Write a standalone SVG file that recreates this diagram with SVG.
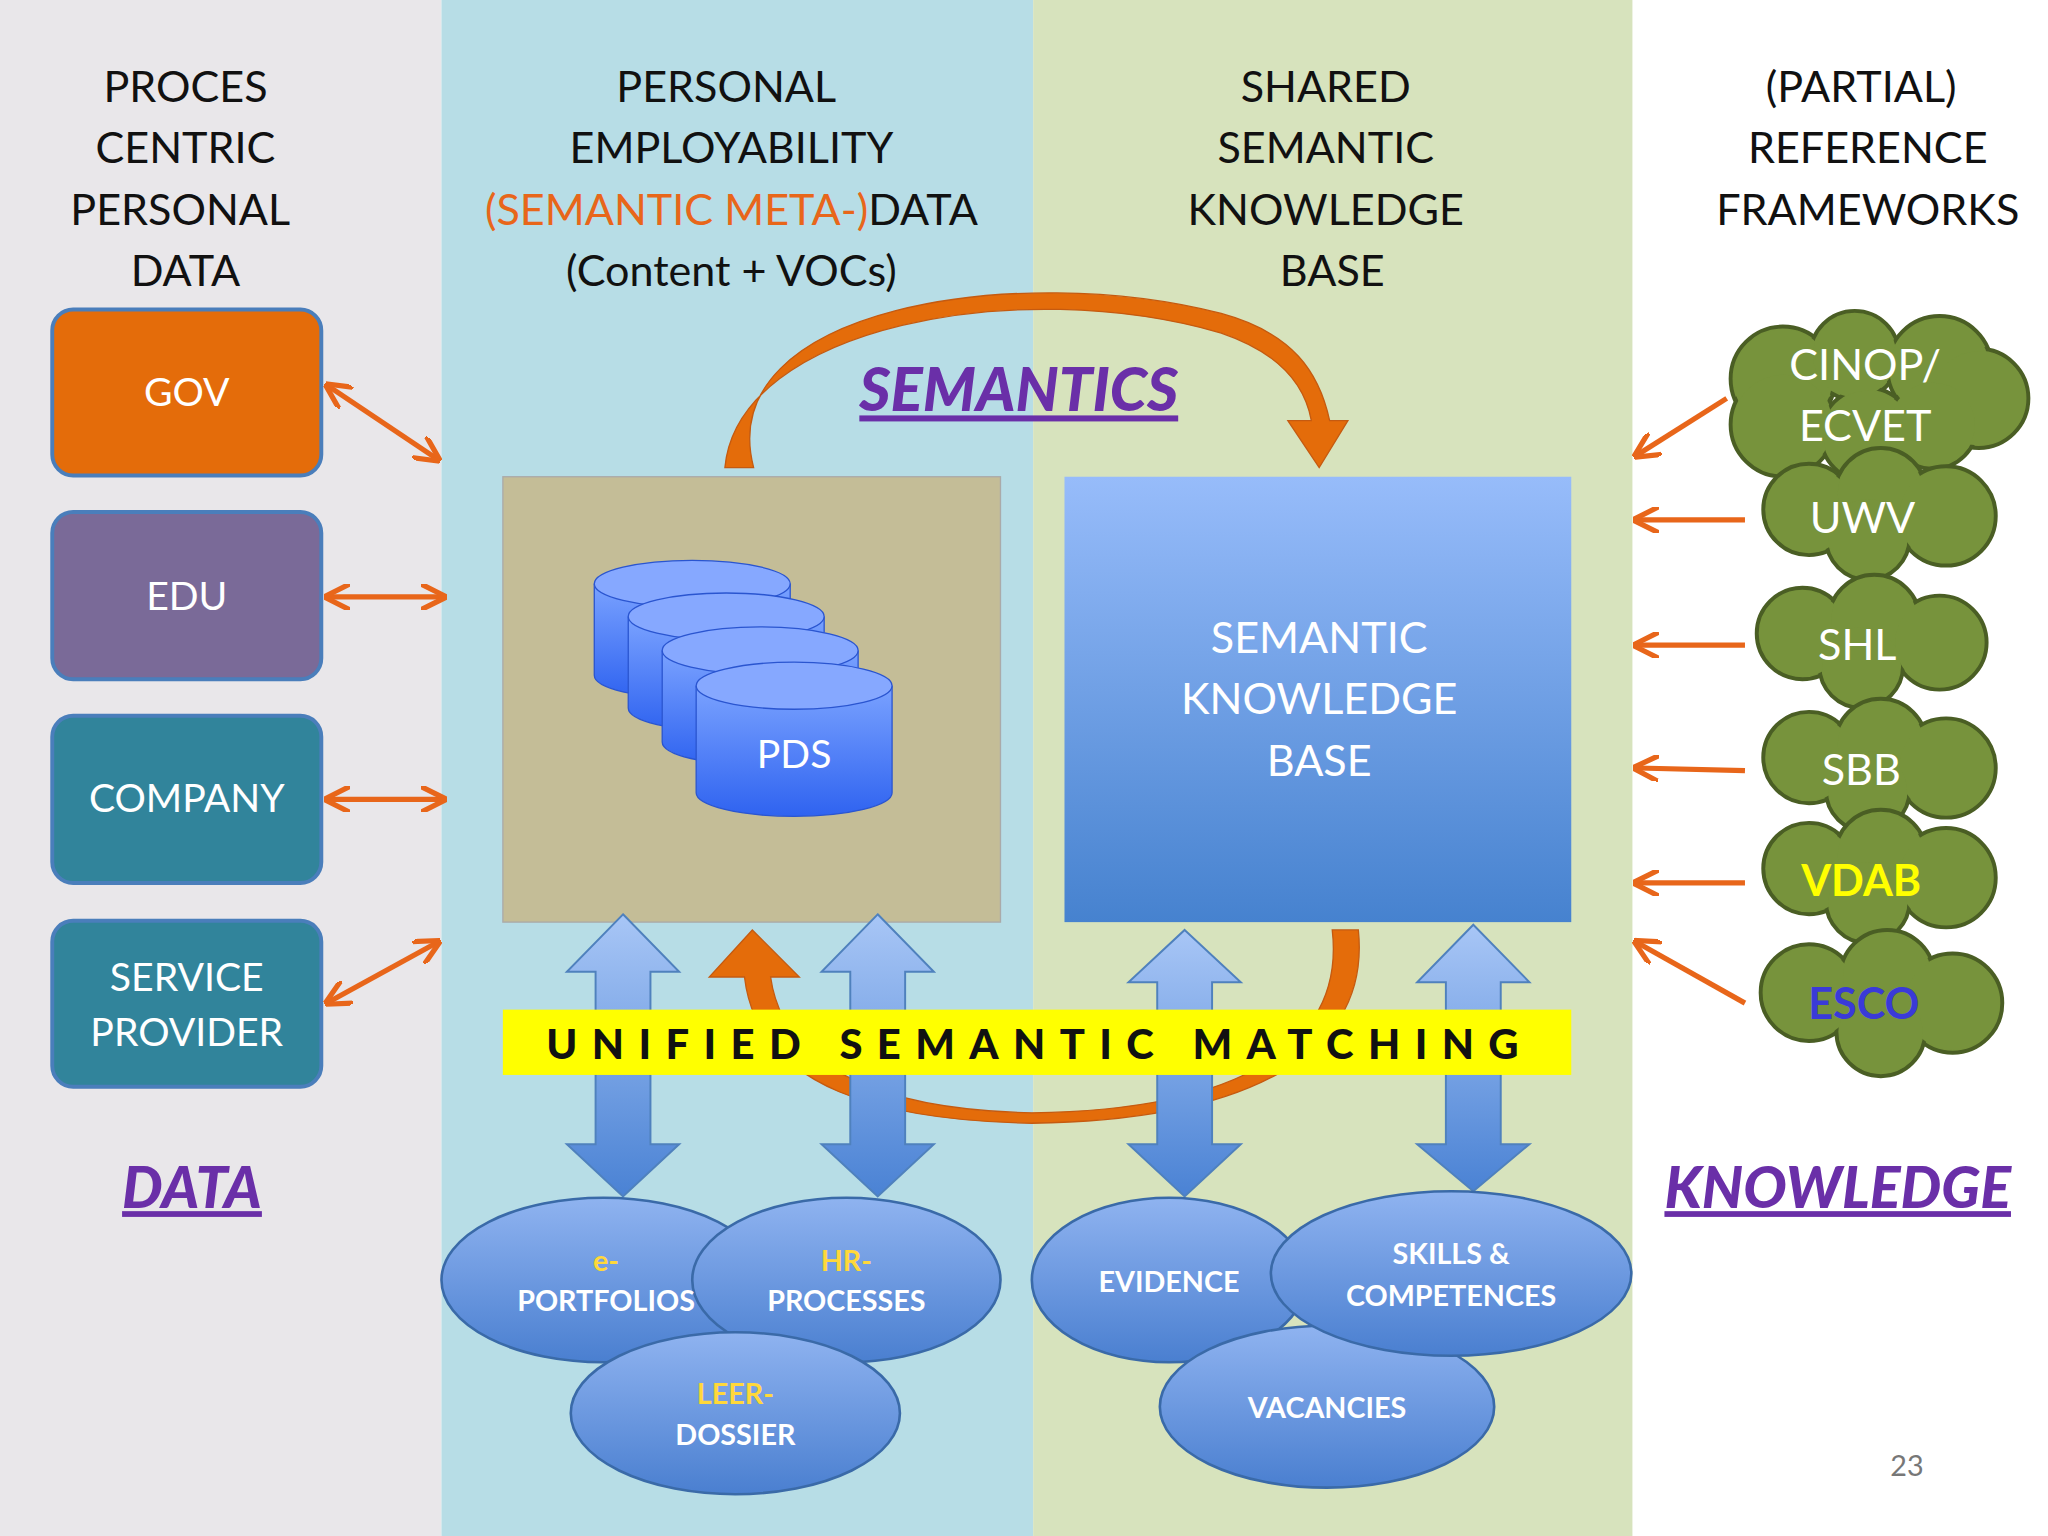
<svg xmlns="http://www.w3.org/2000/svg" width="2048" height="1536" viewBox="0 0 2048 1536">
<defs>
<style>
.h{font-family:Lato,"Open Sans",sans-serif;font-size:33px;fill:#111;text-anchor:middle}
.bl{font-family:Lato,"Open Sans",sans-serif;font-size:30px;fill:#fff;text-anchor:middle}
.el{font-family:Lato,"Open Sans",sans-serif;font-size:22px;font-weight:bold;fill:#fff;text-anchor:middle}
.cl{font-family:Lato,"Open Sans",sans-serif;font-size:33px;fill:#fff;text-anchor:middle}
.big{font-family:Lato,"Open Sans",sans-serif;font-style:italic;font-weight:900;fill:#6a2fa8;text-anchor:middle;text-decoration:underline}
.oa{stroke:#e8661a;stroke-width:4;fill:none;marker-start:url(#oh);marker-end:url(#oh)}
.oa1{stroke:#e8661a;stroke-width:4;fill:none;marker-end:url(#oh)}
.box{stroke:#4a7ebb;stroke-width:3}
.ell{fill:url(#eg);stroke:#3a6aa8;stroke-width:2}
.ba{fill:url(#ag);stroke:#4f81bd;stroke-width:1.5}
</style>
<marker id="oh" viewBox="0 0 10 10" refX="8" refY="5" markerWidth="5" markerHeight="5" orient="auto-start-reverse"><path d="M0,0 L10,5 L0,10" fill="none" stroke="#e8661a" stroke-width="2"/></marker>
<linearGradient id="kg" x1="0" y1="0" x2="0" y2="1"><stop offset="0" stop-color="#97bcfa"/><stop offset="1" stop-color="#4682cf"/></linearGradient>
<linearGradient id="eg" x1="0" y1="0" x2="0" y2="1"><stop offset="0" stop-color="#8fb3f0"/><stop offset="1" stop-color="#4a7fd0"/></linearGradient>
<linearGradient id="ag" x1="0" y1="0" x2="0" y2="1"><stop offset="0" stop-color="#a8c6f6"/><stop offset="1" stop-color="#4a82d4"/></linearGradient>
<linearGradient id="cy" x1="0" y1="0" x2="0" y2="1"><stop offset="0" stop-color="#7aa2ff"/><stop offset="1" stop-color="#2f63f0"/></linearGradient>
</defs>
<g transform="scale(1.30612)">
<g id="backgrounds">
<rect x="0" y="0" width="338" height="1176" fill="#e9e7ea"/>
<rect x="338" y="0" width="453" height="1176" fill="#b7dde6"/>
<rect x="791" y="0" width="459" height="1176" fill="#d7e3bd"/>
<rect x="1250" y="0" width="318" height="1176" fill="#fff"/>
</g>
<g id="headers">
<text class="h" x="142" y="78">PROCES</text><text class="h" x="142" y="125">CENTRIC</text><text class="h" x="138" y="172">PERSONAL</text><text class="h" x="142" y="219">DATA</text>
<text class="h" x="556" y="78">PERSONAL</text><text class="h" x="560" y="125">EMPLOYABILITY</text>
<text class="h" x="560" y="172"><tspan fill="#e8661a">(SEMANTIC META-)</tspan>DATA</text><text class="h" x="560" y="219">(Content + VOCs)</text>
<text class="h" x="1015" y="78">SHARED</text><text class="h" x="1015" y="125">SEMANTIC</text><text class="h" x="1015" y="172">KNOWLEDGE</text><text class="h" x="1020" y="219">BASE</text>
<text class="h" x="1425" y="78">(PARTIAL)</text><text class="h" x="1430" y="125">REFERENCE</text><text class="h" x="1430" y="172">FRAMEWORKS</text>
</g>
<g id="gov"><rect x="40" y="237" width="206" height="127" rx="16" fill="#e46c0a" class="box"/><text class="bl" x="143" y="311">GOV</text></g>
<g id="edu"><rect x="40" y="392" width="206" height="128" rx="16" fill="#7a6a98" class="box"/><text class="bl" x="143" y="467">EDU</text></g>
<g id="company"><rect x="40" y="548" width="206" height="128" rx="16" fill="#31849b" class="box"/><text class="bl" x="143" y="622">COMPANY</text></g>
<g id="service"><rect x="40" y="705" width="206" height="127" rx="16" fill="#31849b" class="box"/><text class="bl" x="143" y="759">SERVICE</text><text class="bl" x="143" y="801">PROVIDER</text></g>
<g id="pds">
<rect x="385" y="365" width="381" height="341" fill="#c4bd97" stroke="#aaa" stroke-width="1"/>
<g stroke="#2a55d0" stroke-width="1">
<path d="M455,447 v70 a75,18 0 0 0 150,0 v-70" fill="url(#cy)"/><ellipse cx="530" cy="447" rx="75" ry="18" fill="#86a8ff"/>
<path d="M481,472 v70 a75,18 0 0 0 150,0 v-70" fill="url(#cy)"/><ellipse cx="556" cy="472" rx="75" ry="18" fill="#86a8ff"/>
<path d="M507,498 v70 a75,18 0 0 0 150,0 v-70" fill="url(#cy)"/><ellipse cx="582" cy="498" rx="75" ry="18" fill="#86a8ff"/>
<path d="M533,525 v82 a75,18 0 0 0 150,0 v-82" fill="url(#cy)"/><ellipse cx="608" cy="525" rx="75" ry="18" fill="#86a8ff"/>
</g>
<text class="bl" x="608" y="588">PDS</text>
</g>
<g id="skb"><rect x="815" y="365" width="388" height="341" fill="url(#kg)"/>
<text class="bl" x="1010" y="500" style="font-size:33px">SEMANTIC</text><text class="bl" x="1010" y="547" style="font-size:33px">KNOWLEDGE</text><text class="bl" x="1010" y="594" style="font-size:33px">BASE</text></g>
<g id="connectors">
<line class="oa" x1="252" y1="296" x2="334" y2="351"/>
<line class="oa" x1="252" y1="457" x2="338" y2="457"/>
<line class="oa" x1="252" y1="612" x2="338" y2="612"/>
<line class="oa" x1="252" y1="767" x2="334" y2="722"/>
<line class="oa1" x1="1322" y1="305" x2="1254" y2="348"/>
<line class="oa1" x1="1336" y1="398" x2="1254" y2="398"/>
<line class="oa1" x1="1336" y1="494" x2="1254" y2="494"/>
<line class="oa1" x1="1336" y1="590" x2="1254" y2="588"/>
<line class="oa1" x1="1336" y1="676" x2="1254" y2="676"/>
<line class="oa1" x1="1336" y1="768" x2="1254" y2="722"/>
<path d="M556,358 C560,240 800,200 960,260 C990,275 1000,300 1004,325 L1032,325 L1010,358 L985,325 L1004,325" fill="none"/>
<path d="M555,358 C565,250 780,210 935,255 C985,272 1000,300 1004,322 L986,322 L1010,358 L1032,322 L1018,322 C1010,285 990,255 935,240 C780,200 545,235 577,358 Z" fill="#e46c0a" stroke="#c55a10" stroke-width="1"/>
<path d="M1020,712 C1030,800 950,850 790,852 C680,850 600,820 590,748 L612,748 L576,712 L543,748 L570,748 C580,835 680,858 790,860 C950,858 1050,810 1040,712 Z" fill="#e46c0a" stroke="#c55a10" stroke-width="1"/>
<path class="ba" d="M477,700 l43,44 h-22 v132 h22 l-43,40 l-43,-40 h22 v-132 h-22 z"/>
<path class="ba" d="M672,700 l43,44 h-22 v132 h22 l-43,40 l-43,-40 h22 v-132 h-22 z"/>
<path class="ba" d="M907,712 l43,40 h-22 v124 h22 l-43,40 l-43,-40 h22 v-124 h-22 z"/>
<path class="ba" d="M1128,708 l43,44 h-22 v124 h22 l-43,36 l-43,-36 h22 v-124 h-22 z"/>
</g>
<g id="banner"><rect x="385" y="773" width="818" height="50" fill="#ffff00"/>
<text x="796" y="811" text-anchor="middle" style="font-family:Lato,sans-serif;font-weight:900;font-size:32px;letter-spacing:11px" fill="#111">UNIFIED SEMANTIC MATCHING</text></g>
<text class="big" x="780" y="315" font-size="46">SEMANTICS</text>
<text class="big" x="147" y="925" font-size="44">DATA</text>
<text class="big" x="1407" y="925" font-size="44">KNOWLEDGE</text>
<g id="eportfolios"><ellipse class="ell" cx="462" cy="980" rx="124" ry="63"/></g>
<g id="hrprocesses"><ellipse class="ell" cx="648" cy="980" rx="118" ry="63"/><text class="el" x="648" y="973" fill="#ffd24a" style="fill:#ffd83a">HR-</text><text class="el" x="648" y="1004">PROCESSES</text></g>
<g id="eportfolios-text"><text class="el" x="464" y="973" style="fill:#ffd83a">e-</text><text class="el" x="464" y="1004">PORTFOLIOS</text></g>
<g id="leerdossier"><ellipse class="ell" cx="563" cy="1082" rx="126" ry="62"/><text class="el" x="563" y="1075" style="fill:#ffd83a">LEER-</text><text class="el" x="563" y="1106">DOSSIER</text></g>
<g id="evidence"><ellipse class="ell" cx="895" cy="980" rx="105" ry="63"/><text class="el" x="895" y="989">EVIDENCE</text></g>
<g id="vacancies"><ellipse class="ell" cx="1016" cy="1077" rx="128" ry="62"/><text class="el" x="1016" y="1086">VACANCIES</text></g>
<g id="skills"><ellipse class="ell" cx="1111" cy="975" rx="138" ry="63"/><text class="el" x="1111" y="968">SKILLS &amp;</text><text class="el" x="1111" y="1000">COMPETENCES</text></g>
<g id="clouds" stroke="#4a5e24" stroke-width="3" fill="#77933c">
<g id="c1"><g><circle cx="1365" cy="290" r="40"/><circle cx="1420" cy="272" r="34"/><circle cx="1485" cy="282" r="40"/><circle cx="1515" cy="305" r="38"/><circle cx="1365" cy="325" r="40"/><circle cx="1430" cy="333" r="36"/><circle cx="1480" cy="325" r="34"/></g>
<g stroke="none"><circle cx="1365" cy="290" r="38"/><circle cx="1420" cy="272" r="32"/><circle cx="1485" cy="282" r="38"/><circle cx="1515" cy="305" r="36"/><circle cx="1365" cy="325" r="38"/><circle cx="1430" cy="333" r="34"/><circle cx="1480" cy="325" r="32"/></g>
<text class="cl" x="1428" y="291" stroke="none">CINOP/</text><text class="cl" x="1428" y="338" stroke="none">ECVET</text></g>
</g>
<g id="clouds2" stroke="#4a5e24" stroke-width="3" fill="#77933c">
<g id="c2"><circle cx="1385" cy="390" r="35"/><circle cx="1440" cy="378" r="35"/><circle cx="1490" cy="395" r="38"/><circle cx="1430" cy="412" r="32"/><g stroke="none"><circle cx="1385" cy="390" r="33"/><circle cx="1440" cy="378" r="33"/><circle cx="1490" cy="395" r="36"/><circle cx="1430" cy="412" r="30"/></g><text class="cl" x="1426" y="408" stroke="none">UWV</text></g>
<g id="c3"><circle cx="1380" cy="485" r="35"/><circle cx="1435" cy="475" r="35"/><circle cx="1485" cy="492" r="36"/><circle cx="1425" cy="510" r="32"/><g stroke="none"><circle cx="1380" cy="485" r="33"/><circle cx="1435" cy="475" r="33"/><circle cx="1485" cy="492" r="34"/><circle cx="1425" cy="510" r="30"/></g><text class="cl" x="1422" y="505" stroke="none">SHL</text></g>
<g id="c4"><circle cx="1385" cy="580" r="35"/><circle cx="1440" cy="570" r="35"/><circle cx="1490" cy="588" r="38"/><circle cx="1430" cy="605" r="32"/><g stroke="none"><circle cx="1385" cy="580" r="33"/><circle cx="1440" cy="570" r="33"/><circle cx="1490" cy="588" r="36"/><circle cx="1430" cy="605" r="30"/></g><text class="cl" x="1425" y="601" stroke="none">SBB</text></g>
<g id="c5"><circle cx="1385" cy="665" r="35"/><circle cx="1440" cy="655" r="35"/><circle cx="1490" cy="672" r="38"/><circle cx="1430" cy="690" r="32"/><g stroke="none"><circle cx="1385" cy="665" r="33"/><circle cx="1440" cy="655" r="33"/><circle cx="1490" cy="672" r="36"/><circle cx="1430" cy="690" r="30"/></g><text class="cl" x="1425" y="686" stroke="none" style="fill:#ffff00;font-weight:bold">VDAB</text></g>
<g id="c6"><circle cx="1385" cy="760" r="37"/><circle cx="1445" cy="748" r="36"/><circle cx="1495" cy="768" r="38"/><circle cx="1440" cy="790" r="34"/><g stroke="none"><circle cx="1385" cy="760" r="35"/><circle cx="1445" cy="748" r="34"/><circle cx="1495" cy="768" r="36"/><circle cx="1440" cy="790" r="32"/></g><text class="cl" x="1427" y="780" stroke="none" style="fill:#3a3ad8;font-weight:bold">ESCO</text></g>
</g>
<text x="1460" y="1130" text-anchor="middle" style="font-family:Lato,sans-serif;font-size:22px" fill="#777">23</text>
</g>
</svg>
